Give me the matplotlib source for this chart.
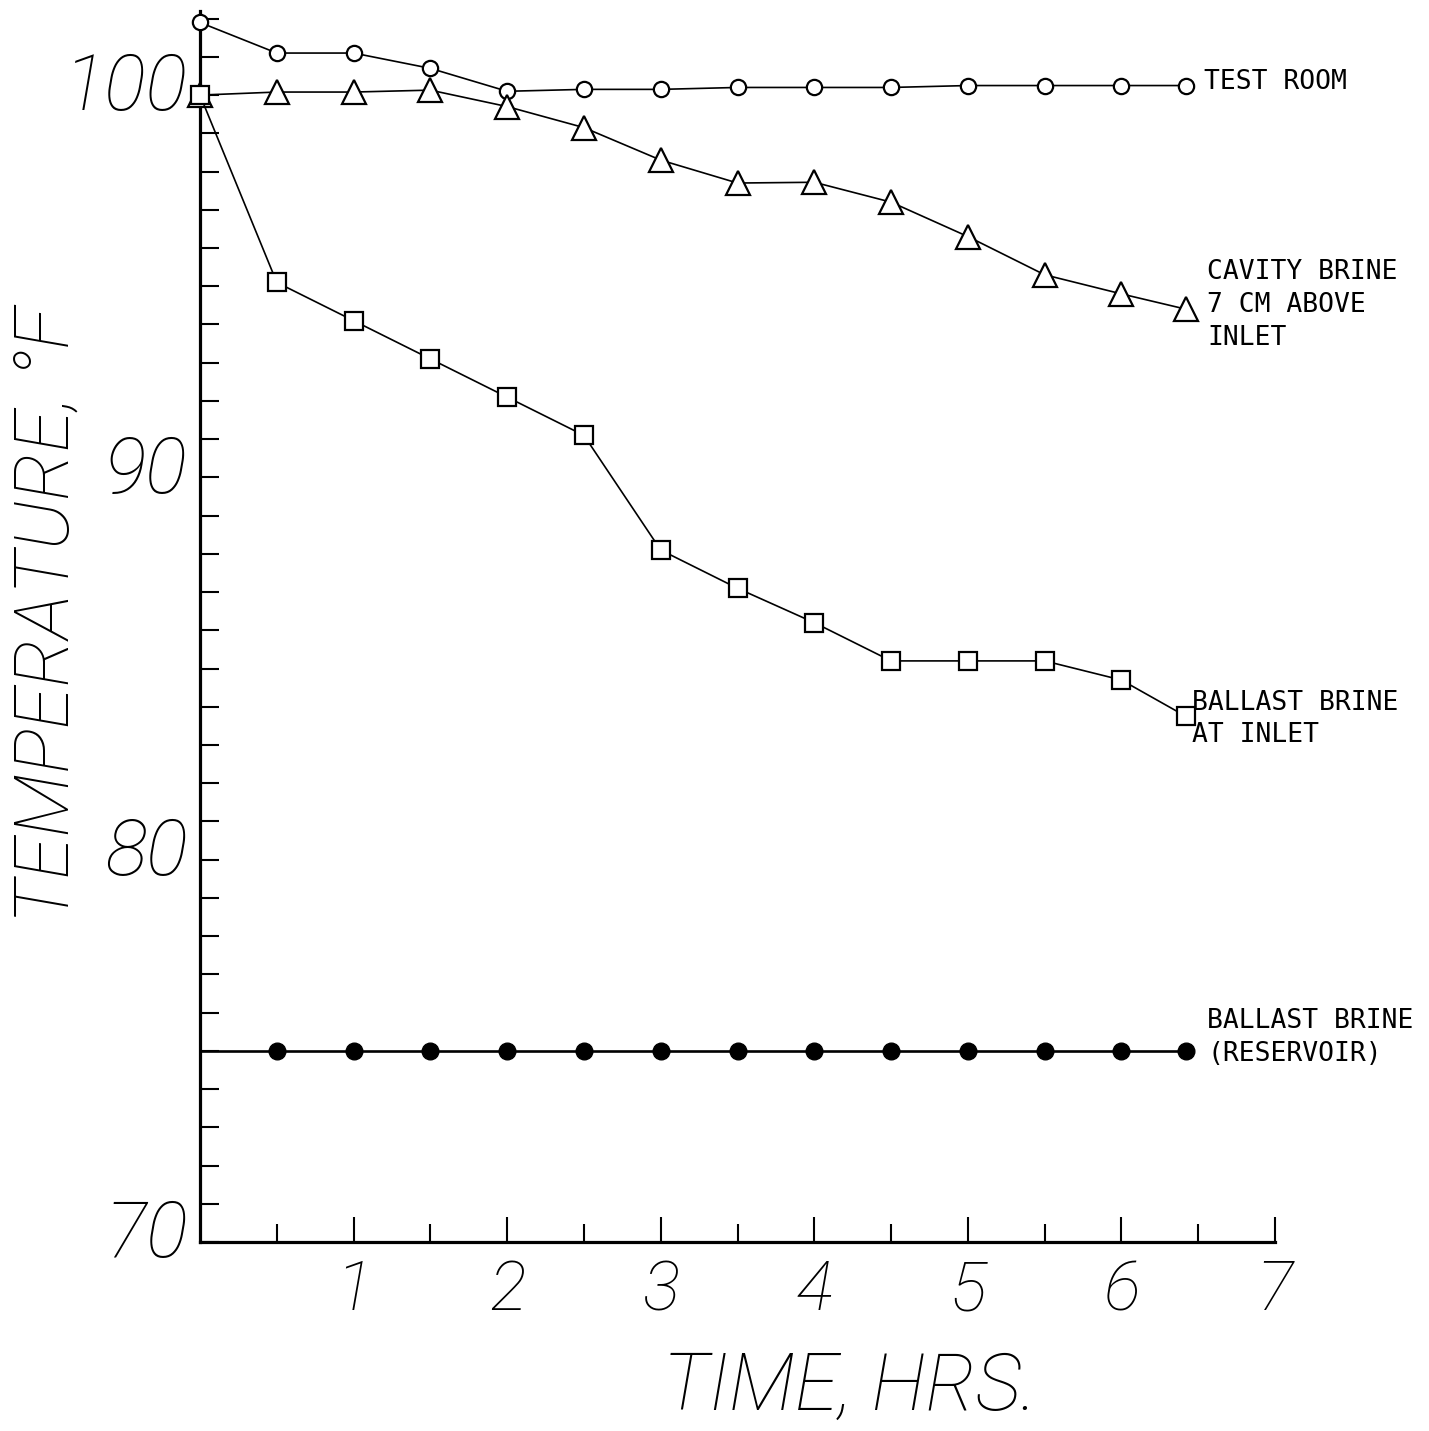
import matplotlib

matplotlib.use("Agg")

import matplotlib.pyplot as plt
from matplotlib.ticker import FixedLocator, MultipleLocator
from matplotlib.transforms import ScaledTranslation

# hours since start; last reading taken a little before 6.5 h
hours = [0.0, 0.5, 1.0, 1.5, 2.0, 2.5, 3.0, 3.5, 4.0, 4.5, 5.0, 5.5, 6.0, 6.42]

test_room = [101.9, 101.1, 101.1, 100.7, 100.1, 100.15, 100.15, 100.2, 100.2, 100.2, 100.25, 100.25, 100.25, 100.25]
cavity_brine = [100.0, 100.08, 100.08, 100.13, 99.7, 99.15, 98.3, 97.7, 97.72, 97.2, 96.3, 95.3, 94.8, 94.4]
ballast_inlet = [100.0, 95.1, 94.1, 93.1, 92.1, 91.1, 88.1, 87.1, 86.2, 85.2, 85.2, 85.2, 84.7, 83.75]
# reservoir series: line starts at the axis, markers from 0.5 h on
reservoir_hours = [0.0, 0.5, 1.0, 1.5, 2.0, 2.5, 3.0, 3.5, 4.0, 4.5, 5.0, 5.5, 6.0, 6.42]
reservoir = [75.0, 75.0, 75.0, 75.0, 75.0, 75.0, 75.0, 75.0, 75.0, 75.0, 75.0, 75.0, 75.0, 75.0]

x_major = [1, 2, 3, 4, 5, 6, 7]
x_labels = ["1", "2", "3", "4", "5", "6", "7"]
y_major = [70, 80, 90, 100]
y_labels = ["70", "80", "90", "100"]

labels = [
    ("TEST ROOM", 6.54, 100.34),
    ("CAVITY BRINE\n7 CM ABOVE\nINLET", 6.56, 94.51),
    ("BALLAST BRINE\nAT INLET", 6.46, 83.68),
    ("BALLAST BRINE\n(RESERVOIR)", 6.56, 75.35),
]

W, H = 1429, 1431
fig = plt.figure(figsize=(W / 100, H / 100), dpi=100)
ax = fig.add_axes([200 / W, 1 - 1242 / H, (1275 - 200) / W, (1242 - 11) / H])
ax.set_xlim(0, 7)
ax.set_ylim(70, 102.2)

line_kw = dict(color="black", linewidth=1.2, markeredgewidth=1.6, markerfacecolor="white", clip_on=False)
ax.plot(hours, test_room, marker="o", markersize=11, zorder=3, **line_kw)
ax.plot(hours, cavity_brine, marker="^", markersize=17, zorder=3, **line_kw)
ax.plot(hours, ballast_inlet, marker="s", markersize=13, zorder=3, **line_kw)
ax.plot(reservoir_hours, reservoir, color="black", linewidth=1.9, clip_on=False, zorder=3)
ax.plot(reservoir_hours[1:], reservoir[1:], linestyle="none", marker="o", markersize=12,
        color="black", clip_on=False, zorder=4)

for s in ("top", "right"):
    ax.spines[s].set_visible(False)
for s in ("left", "bottom"):
    ax.spines[s].set_linewidth(2.3)

ax.xaxis.set_major_locator(FixedLocator(x_major))
ax.xaxis.set_minor_locator(FixedLocator([0.5, 1.5, 2.5, 3.5, 4.5, 5.5, 6.5]))
ax.yaxis.set_major_locator(FixedLocator(y_major))
ax.yaxis.set_minor_locator(MultipleLocator(1))

num_font = dict(family=["Roboto", "DejaVu Sans"], style="italic", weight="light")
ax.set_xticklabels(x_labels, fontsize=50, **num_font)
ax.set_yticklabels(y_labels, fontsize=56, **num_font)
ax.tick_params(axis="x", which="major", direction="in", length=18, width=1.5, pad=12)
ax.tick_params(axis="x", which="minor", direction="in", length=13, width=1.5)
ax.tick_params(axis="y", which="both", direction="in", length=14, width=1.5, pad=9)

# the hand-lettered y numbers sit a little above their ticks
lift = ScaledTranslation(0, 10 / 72, fig.dpi_scale_trans)
for lbl in ax.get_yticklabels():
    lbl.set_transform(lbl.get_transform() + lift)

for text, x, y in labels:
    ax.text(x, y, text, family="DejaVu Sans Mono", fontsize=19, ha="left", va="center",
            linespacing=1.33, clip_on=False)

fig.text(850 / W, 1 - 1410 / H, "TIME, HRS.", fontsize=57, ha="center", va="baseline", **num_font)
fig.text(48 / W, 1 - 615 / H, "TEMPERATURE, °F", fontsize=55, rotation=90, ha="center", va="center",
         **num_font)

fig.savefig("out.png", dpi=100)
